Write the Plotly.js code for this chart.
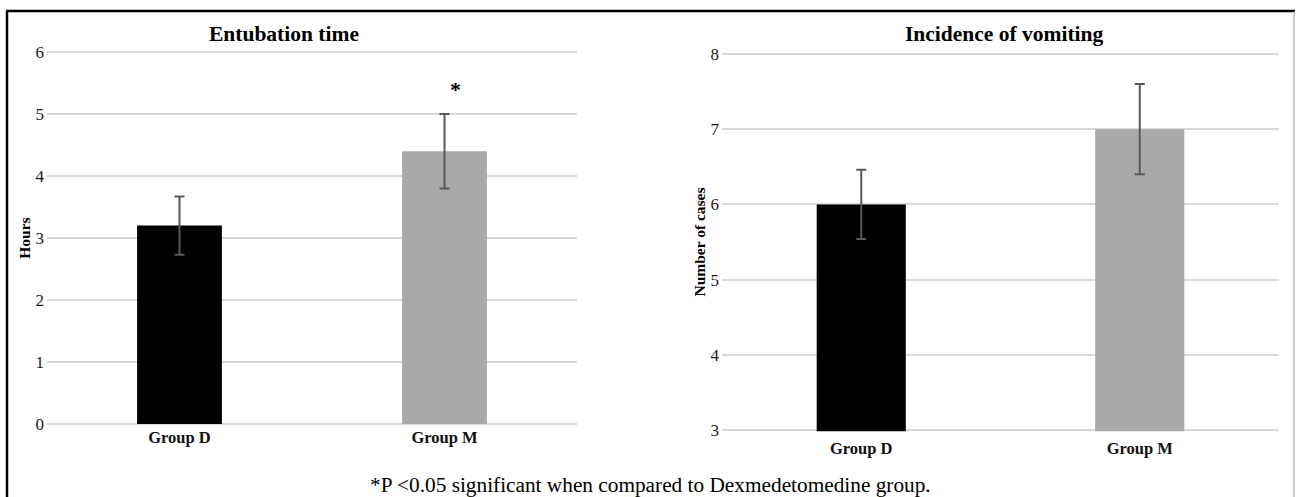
<!DOCTYPE html>
<html>
<head>
<meta charset="utf-8">
<script src="https://cdn.plot.ly/plotly-3.0.1.min.js"></script>
<style>
  html, body { margin: 0; padding: 0; background: #ffffff; }
  #chart { width: 1296px; height: 497px; }
</style>
</head>
<body>
<div id="chart"></div>
<script>
// ---- data ----
const categories = ['Group D', 'Group M'];
const entubationHours = [3.2, 4.4];
const entubationErr = [0.47, 0.6];
const vomitingCases = [6, 7];
const vomitingErr = [0.46, 0.6];
const hoursTicks = [0, 1, 2, 3, 4, 5, 6];
const casesTicks = [3, 4, 5, 6, 7, 8];
const barColors = ['#000000', '#a9a9a9'];
const leftTitle = 'Entubation time';
const rightTitle = 'Incidence of vomiting';
const leftYTitle = 'Hours';
const rightYTitle = 'Number of cases';
const footnote = '*P <0.05 significant when compared to Dexmedetomedine group.';
const significanceMark = '*';

const W = 1296, H = 497;
const px = v => v / W;
const py = v => (H - v) / H;

const serif = 'Liberation Serif, Times New Roman, serif';
const errStyle = { type: 'data', visible: true, color: '#595959', thickness: 2, width: 5 };

const traces = [
  {
    type: 'bar', x: categories, y: entubationHours,
    marker: { color: barColors, line: { width: 0 } },
    error_y: Object.assign({ array: entubationErr }, errStyle),
    width: 0.32, xaxis: 'x', yaxis: 'y', hoverinfo: 'x+y'
  },
  {
    type: 'bar', x: categories, y: vomitingCases,
    marker: { color: barColors, line: { width: 0 } },
    error_y: Object.assign({ array: vomitingErr }, errStyle),
    width: 0.32, xaxis: 'x2', yaxis: 'y2', hoverinfo: 'x+y'
  }
];

const tickFont = { family: serif, size: 17, color: '#1a1a1a' };
const catFont = { family: serif, size: 16.5, color: '#111111', weight: 'bold' };
const gridCol = '#d9d9d9';

// left panel: 62 px per hour, small pad so edge gridlines are drawn
const lPad = 0.02, lPx = 62;
// right panel: 75.2 px per case
const rPad = 0.015, rPx = 75.2;

const layout = {
  width: W, height: H,
  margin: { l: 0, r: 0, t: 0, b: 0 },
  paper_bgcolor: '#ffffff', plot_bgcolor: '#ffffff',
  showlegend: false,
  xaxis: {
    domain: [px(47), px(577)], anchor: 'y', type: 'category',
    range: [-0.5, 1.5], showgrid: false, showline: false, ticks: '', zeroline: false,
    tickfont: catFont, ticklabelstandoff: 0
  },
  yaxis: {
    domain: [py(424 + lPad * lPx), py(52 - lPad * lPx)], anchor: 'x', range: [-lPad, 6 + lPad],
    tickvals: hoursTicks, showgrid: true, gridcolor: gridCol, gridwidth: 2,
    showline: false, ticks: '', zeroline: false, tickfont: tickFont, ticklabelstandoff: 2,
    title: { text: leftYTitle, font: { family: serif, size: 15.5, color: '#000000', weight: 'bold' }, standoff: 1 }
  },
  xaxis2: {
    domain: [px(722), px(1279)], anchor: 'y2', type: 'category',
    range: [-0.5, 1.5], showgrid: false, showline: false, ticks: '', zeroline: false,
    tickfont: catFont, ticklabelstandoff: 5
  },
  yaxis2: {
    domain: [py(430 + rPad * rPx), py(54 - rPad * rPx)], anchor: 'x2', range: [3 - rPad, 8 + rPad],
    tickvals: casesTicks, showgrid: true, gridcolor: gridCol, gridwidth: 2,
    showline: false, ticks: '', zeroline: false, tickfont: tickFont, ticklabelstandoff: 2,
    title: { text: rightYTitle, font: { family: serif, size: 15.5, color: '#000000', weight: 'bold' }, standoff: 1 }
  },
  annotations: [
    { xref: 'paper', yref: 'paper', x: px(284), y: py(34), xanchor: 'center', yanchor: 'middle',
      text: '<b>' + leftTitle + '</b>', showarrow: false, font: { family: serif, size: 21.5, color: '#000000' } },
    { xref: 'paper', yref: 'paper', x: px(1005), y: py(34), xanchor: 'center', yanchor: 'middle',
      text: '<b>' + rightTitle + '</b>', showarrow: false, font: { family: serif, size: 21.5, color: '#000000' } },
    { xref: 'x', yref: 'y', x: 1.04, y: 5.39, xanchor: 'center', yanchor: 'middle',
      text: '<b>' + significanceMark + '</b>', showarrow: false, font: { family: serif, size: 22, color: '#000000' } },
    { xref: 'paper', yref: 'paper', x: px(651), y: py(485), xanchor: 'center', yanchor: 'middle',
      text: footnote, showarrow: false, font: { family: serif, size: 21.3, color: '#000000' } }
  ],
  shapes: [
    { type: 'line', xref: 'paper', yref: 'paper', x0: px(7), x1: px(7), y0: py(11), y1: py(510), line: { color: '#000000', width: 2.5 } },
    { type: 'line', xref: 'paper', yref: 'paper', x0: px(6), x1: px(1295), y0: py(11), y1: py(11), line: { color: '#000000', width: 2.5 } },
    { type: 'line', xref: 'paper', yref: 'paper', x0: px(1294), x1: px(1294), y0: py(11), y1: py(510), line: { color: '#9a9a9a', width: 1 } }
  ]
};

Plotly.newPlot('chart', traces, layout, { displayModeBar: false, staticPlot: true });
</script>
</body>
</html>
